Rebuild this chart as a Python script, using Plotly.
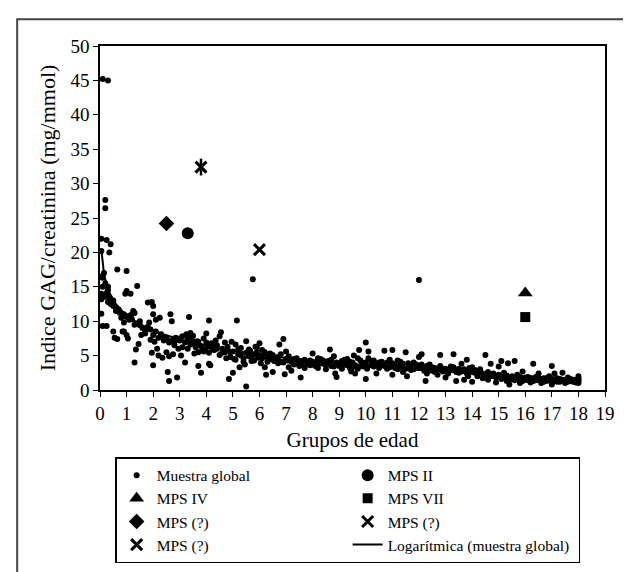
import numpy as np
import plotly.graph_objects as go

# ---- Data: Muestra global (age group, GAG/creatinine index) ----
global_x = [
    0.1, 0.3, 0.05, 0.05, 0.2, 0.2, 0.25, 0.4, 0.35, 0.05, 0.1, 0.05, 0.1, 0.05, 0.15, 0.2, 0.3, 0.3, 0.35, 0.4,
    0.5, 0.5, 0.05, 0.1, 0.25, 0.6, 0.65, 0.7, 0.8, 0.85, 0.5, 0.55, 0.65, 0.9, 0.95, 1.0, 1.0, 0.9, 1.0, 1.05,
    1.1, 1.15, 1.2, 1.25, 1.3, 1.3, 1.35, 1.4, 1.45, 1.5, 1.55, 1.7, 1.8, 1.85, 1.9, 1.95, 2.0, 2.0, 2.05, 1.95,
    2.0, 2.1, 2.15, 2.2, 2.25, 2.3, 2.35, 2.4, 2.5, 2.55, 2.6, 2.6, 2.65, 2.7, 2.75, 2.8, 2.85, 2.9, 2.95, 3.0,
    3.05, 3.1, 3.2, 3.25, 3.3, 3.35, 3.4, 3.45, 3.5, 3.55, 3.6, 3.65, 3.7, 3.7, 3.8, 3.85, 3.9, 3.95, 4.0, 4.05,
    4.1, 4.1, 4.15, 4.2, 4.25, 4.35, 4.4, 4.5, 4.55, 4.6, 4.7, 4.75, 4.8, 4.85, 4.9, 4.95, 5.0, 5.05, 5.1, 5.15,
    5.2, 5.25, 5.3, 5.4, 5.45, 5.5, 5.5, 5.6, 5.65, 5.7, 5.75, 5.8, 5.85, 5.9, 5.95, 6.0, 6.05, 6.1, 6.2, 6.25,
    6.3, 6.35, 6.4, 6.5, 6.55, 6.6, 6.7, 6.75, 6.8, 6.9, 6.95, 7.0, 7.05, 7.1, 7.2, 7.3, 7.4, 7.5, 7.55, 7.6,
    7.7, 7.8, 7.9, 8.0, 8.0, 8.1, 8.2, 8.3, 8.4, 8.5, 8.6, 8.65, 8.7, 8.8, 8.85, 8.9, 9.0, 9.1, 9.2, 9.3,
    9.4, 9.45, 9.5, 9.55, 9.6, 9.7, 9.75, 9.8, 9.9, 10.0, 10.0, 10.05, 10.1, 10.2, 10.3, 10.4, 10.5, 10.6, 10.7, 10.8,
    10.9, 11.0, 11.0, 11.1, 11.2, 11.3, 11.4, 11.5, 11.55, 11.6, 11.7, 11.8, 11.9, 12.0, 12.0, 12.1, 12.2, 12.25, 12.3, 12.4,
    12.5, 12.6, 12.7, 12.8, 12.9, 13.0, 13.1, 13.2, 13.3, 13.4, 13.5, 13.6, 13.7, 13.8, 13.85, 13.9, 14.0, 14.0, 14.1, 14.2,
    14.3, 14.4, 14.5, 14.55, 14.6, 14.7, 14.8, 14.9, 15.0, 15.0, 15.1, 15.2, 15.3, 15.35, 15.4, 15.5, 15.6, 15.7, 15.8, 15.9,
    16.0, 16.1, 16.2, 16.3, 16.4, 16.5, 16.6, 16.7, 16.8, 16.9, 17.0, 17.0, 17.1, 17.2, 17.3, 17.4, 17.5, 17.6, 17.7, 17.8,
    17.9, 18.0, 18.0, 18.0,
    3.0, 3.1, 3.2, 3.3, 3.4, 3.5, 3.6, 3.7, 3.8, 3.9, 4.0, 4.1, 4.2, 4.3, 4.4, 4.5, 4.6, 4.7, 4.8, 4.9,
    5.0, 5.1, 5.2, 5.3, 5.4, 5.5, 5.6, 5.7, 5.8, 5.9, 6.0, 6.1, 6.2, 6.3, 6.4, 6.5, 6.6, 6.7, 6.8, 6.9,
    7.0, 7.1, 7.2, 7.3, 7.4, 7.5, 7.6, 7.7, 7.8, 7.9, 8.0, 8.1, 8.2, 8.3, 8.4, 8.5, 8.6, 8.7, 8.8, 8.9,
    9.0, 9.1, 9.2, 9.3, 9.4, 9.5, 9.6, 9.7, 9.8, 9.9, 10.0, 10.0, 10.1, 10.2, 10.3, 10.4, 10.5, 10.6, 10.7, 10.8,
    10.9, 11.0, 11.1, 11.2, 11.3, 11.4, 11.5, 11.6, 11.7, 11.8, 11.9, 12.0, 12.1, 12.2, 12.3, 12.4, 12.5, 12.6, 12.7, 12.8,
    12.9, 13.0, 13.1, 13.2, 13.3, 13.4, 13.5, 13.6, 13.7, 13.8, 13.9, 14.0, 14.1, 14.2, 14.3, 14.4, 14.5, 14.6, 14.7, 14.8,
    14.9, 15.0, 15.1, 15.2, 15.3, 15.4, 15.5, 15.6, 15.7, 15.8, 15.9, 16.0, 16.1, 16.2, 16.3, 16.4, 16.5, 16.6, 16.7, 16.8,
    16.9, 17.0, 17.1, 17.2, 17.3, 17.4, 17.5, 17.6, 17.7, 17.8, 17.9, 18.0, 18.0,
    0.15, 0.2, 0.3, 0.45, 0.6, 0.75, 0.9, 1.0, 1.1, 1.2, 1.3, 1.4, 1.5, 1.6, 1.7, 1.8, 1.9, 2.0, 2.1, 2.2,
    2.3, 2.4, 2.5, 2.6, 2.7, 2.8, 2.9, 0.25, 0.35,
]
global_y = [
    45.2, 45.0, 22.0, 20.2, 27.6, 26.4, 21.8, 21.2, 20.0, 16.5, 16.3, 14.0, 15.0, 13.2, 13.5, 13.8, 14.5, 12.8, 13.2, 12.5,
    13.0, 12.2, 11.1, 9.3, 9.3, 11.5, 17.5, 11.7, 10.5, 8.5, 8.5, 7.6, 7.4, 9.8, 14.0, 17.3, 14.4, 8.5, 8.0, 7.5,
    10.2, 14.0, 11.0, 11.5, 9.5, 4.0, 5.9, 15.1, 6.7, 10.0, 8.0, 8.2, 12.7, 9.8, 7.3, 12.8, 12.2, 11.0, 7.0, 5.4,
    3.6, 10.2, 6.0, 5.0, 10.5, 8.1, 4.7, 7.4, 5.5, 2.6, 1.3, 4.9, 11.0, 10.0, 5.2, 7.0, 7.6, 1.8, 6.0, 7.5,
    5.0, 6.2, 4.0, 8.1, 6.0, 10.6, 8.3, 7.7, 7.0, 5.3, 6.5, 7.1, 5.5, 3.5, 2.5, 6.0, 7.5, 5.8, 8.2, 6.3,
    10.1, 3.8, 3.6, 6.8, 5.9, 7.2, 6.0, 7.8, 8.4, 5.4, 6.9, 4.6, 5.8, 1.6, 5.5, 7.0, 2.5, 4.5, 6.6, 10.1,
    5.9, 3.3, 5.0, 4.1, 3.7, 7.1, 0.5, 4.9, 5.7, 4.2, 16.1, 5.2, 6.3, 5.5, 4.7, 6.8, 3.9, 5.8, 3.3, 2.2,
    4.8, 4.4, 5.3, 2.6, 4.2, 4.6, 3.9, 6.6, 4.1, 7.4, 2.3, 5.6, 4.3, 3.3, 2.8, 4.5, 3.9, 3.5, 1.8, 4.2,
    3.2, 4.1, 3.6, 5.3, 3.7, 4.0, 3.2, 4.5, 3.8, 3.0, 4.2, 5.9, 3.5, 4.9, 2.4, 1.9, 3.8, 3.1, 4.4, 3.6,
    4.1, 2.7, 3.3, 5.0, 2.4, 4.6, 5.8, 3.5, 3.9, 6.9, 1.6, 3.1, 5.6, 4.2, 3.4, 2.4, 4.0, 3.7, 5.7, 3.1,
    4.4, 5.8, 2.2, 3.6, 3.0, 4.1, 2.6, 5.5, 2.0, 3.3, 2.9, 4.0, 3.5, 16.0, 4.8, 5.2, 3.0, 1.3, 2.4, 3.7,
    2.8, 3.2, 2.2, 5.1, 3.1, 1.8, 2.7, 3.4, 5.2, 1.3, 2.5, 3.8, 1.5, 4.4, 2.0, 2.9, 3.3, 1.2, 2.5, 2.0,
    3.0, 1.7, 5.1, 2.3, 1.5, 3.8, 2.1, 1.1, 3.4, 1.9, 4.2, 2.5, 1.3, 3.9, 0.8, 1.6, 4.2, 2.2, 1.0, 2.7,
    1.5, 1.9, 1.1, 3.8, 1.4, 2.4, 1.0, 1.7, 1.3, 2.0, 3.5, 0.8, 2.4, 1.2, 1.6, 2.5, 1.0, 1.8, 1.3, 1.5,
    1.1, 2.0, 1.0, 1.5,
    7.2, 7.8, 6.9, 7.4, 6.6, 7.9, 6.2, 7.0, 6.4, 5.6, 6.9, 5.4, 6.2, 5.8, 6.5, 5.1, 6.0, 5.5, 6.3, 4.8,
    5.6, 4.4, 5.2, 6.1, 4.6, 5.4, 5.9, 4.8, 4.3, 6.2, 5.0, 4.6, 5.5, 4.1, 4.7, 5.1, 4.3, 4.8, 5.2, 4.0,
    4.5, 4.9, 4.1, 3.7, 4.6, 4.0, 3.6, 4.4, 3.8, 4.3, 4.1, 3.5, 4.6, 3.9, 4.3, 3.6, 3.9, 4.4, 3.4, 4.0,
    3.5, 4.2, 3.7, 4.5, 3.2, 4.0, 3.6, 3.1, 4.3, 3.4, 4.0, 3.5, 4.6, 3.6, 4.3, 3.8, 3.2, 4.1, 3.5, 4.0,
    3.3, 3.9, 3.2, 4.3, 3.4, 3.8, 3.1, 3.9, 3.4, 3.0, 3.7, 3.2, 3.7, 2.8, 3.5, 2.9, 3.3, 2.6, 3.0, 3.5,
    2.7, 3.1, 2.4, 2.9, 3.3, 2.6, 3.1, 2.7, 3.0, 2.4, 3.2, 2.6, 2.9, 2.3, 2.7, 2.4, 2.1, 2.6, 2.0, 2.4,
    1.8, 2.2, 1.6, 1.9, 2.1, 1.5, 2.0, 1.4, 1.7, 1.9, 1.3, 1.8, 1.4, 1.7, 1.3, 1.9, 1.5, 1.6, 1.2, 1.7,
    1.4, 1.6, 1.3, 1.7, 1.2, 1.5, 1.4, 1.2, 1.6, 1.2, 1.4, 1.3, 1.7,
    17.0, 15.5, 15.0, 12.9, 12.0, 11.2, 11.0, 10.6, 10.8, 10.3, 11.2, 9.7, 9.4, 9.0, 8.5, 9.2, 8.8, 8.0, 8.5, 7.6,
    7.9, 7.2, 7.6, 6.9, 7.2, 6.5, 7.3, 14.1, 13.5,
]

# ---- Individual MPS cases ----
mps2_x, mps2_y = [3.3], [22.8]
mps4_x, mps4_y = [16.0], [14.1]
mps7_x, mps7_y = [16.0], [10.6]
mpsq_diamond_x, mpsq_diamond_y = [2.5], [24.2]
mpsq_x_x, mpsq_x_y = [6.0], [20.4]
mpsq_star_x, mpsq_star_y = [3.8], [32.4]

x_ticks = list(range(0, 20))
y_ticks = list(range(0, 51, 5))

# Logarithmic trend line fitted to the global sample (like a spreadsheet trendline)
gx = np.array(global_x)
gy = np.array(global_y)
b, a = np.polyfit(np.log(gx), gy, 1)
trend_x = np.unique(gx)
trend_y = a + b * np.log(trend_x)

FONT = "Liberation Serif, Times New Roman, serif"
fig = go.Figure()

fig.add_trace(go.Scatter(x=global_x, y=global_y, mode="markers", name="Muestra global",
                         marker=dict(symbol="circle", size=6, color="black")))
fig.add_trace(go.Scatter(x=mps2_x, y=mps2_y, mode="markers", name="MPS II",
                         marker=dict(symbol="circle", size=12, color="black")))
fig.add_trace(go.Scatter(x=mps4_x, y=mps4_y, mode="markers", name="MPS IV",
                         marker=dict(symbol="triangle-up", size=13, color="black")))
fig.add_trace(go.Scatter(x=mps7_x, y=mps7_y, mode="markers", name="MPS VII",
                         marker=dict(symbol="square", size=10, color="black")))
fig.add_trace(go.Scatter(x=mpsq_diamond_x, y=mpsq_diamond_y, mode="markers", name="MPS (?)",
                         marker=dict(symbol="diamond", size=12, color="black")))
fig.add_trace(go.Scatter(x=mpsq_x_x, y=mpsq_x_y, mode="markers", name="MPS (?)",
                         marker=dict(symbol="x-thin", size=11, color="black",
                                     line=dict(width=3, color="black"))))
fig.add_trace(go.Scatter(x=mpsq_star_x, y=mpsq_star_y, mode="markers", name="MPS (?)",
                         legendgroup="star",
                         marker=dict(symbol="x-thin", size=11, color="black",
                                     line=dict(width=3, color="black"))))
fig.add_trace(go.Scatter(x=trend_x, y=trend_y, mode="lines", name="Logarítmica (muestra global)",
                         line=dict(color="black", width=2)))
fig.add_trace(go.Scatter(x=mpsq_star_x, y=mpsq_star_y, mode="markers", name="MPS (?)",
                         legendgroup="star", showlegend=False,
                         marker=dict(symbol="line-ns", size=12, color="black",
                                     line=dict(width=2.5, color="black"))))

fig.update_layout(
    width=631, height=572,
    margin=dict(l=92, r=34, t=38, b=190, autoexpand=False),
    paper_bgcolor="white", plot_bgcolor="white",
    font=dict(family=FONT, color="black", size=17),
    showlegend=True,
    legend=dict(
        orientation="h", x=0.03, y=-0.195, xanchor="left", yanchor="top",
        entrywidth=186, entrywidthmode="pixels",
        bordercolor="black", borderwidth=1.5, bgcolor="white",
        font=dict(family=FONT, size=15.5, color="black"),
        traceorder="normal",
    ),
    shapes=[dict(type="rect", xref="paper", yref="paper",
                 x0=-0.164, x1=1.05, y0=-0.58, y1=1.078,
                 line=dict(color="#444", width=2), layer="below")],
)
fig.update_xaxes(range=[0, 19], tickvals=x_ticks, ticktext=[str(v) for v in x_ticks],
                 showgrid=False, zeroline=False, showline=True, linecolor="black", linewidth=1.5,
                 mirror=True, ticks="outside", ticklen=5, tickcolor="black",
                 tickfont=dict(family=FONT, size=19, color="black"),
                 title=dict(text="Grupos de edad", font=dict(family=FONT, size=21, color="black"), standoff=10))
fig.update_yaxes(range=[0, 50], tickvals=y_ticks, ticktext=[str(v) for v in y_ticks],
                 showgrid=False, zeroline=False, showline=True, linecolor="black", linewidth=1.5,
                 mirror=True, ticks="outside", ticklen=5, tickcolor="black",
                 tickfont=dict(family=FONT, size=19, color="black"),
                 title=dict(text="Indice GAG/creatinina (mg/mmol)", font=dict(family=FONT, size=22, color="black"), standoff=9))

fig.write_html("out.html")
